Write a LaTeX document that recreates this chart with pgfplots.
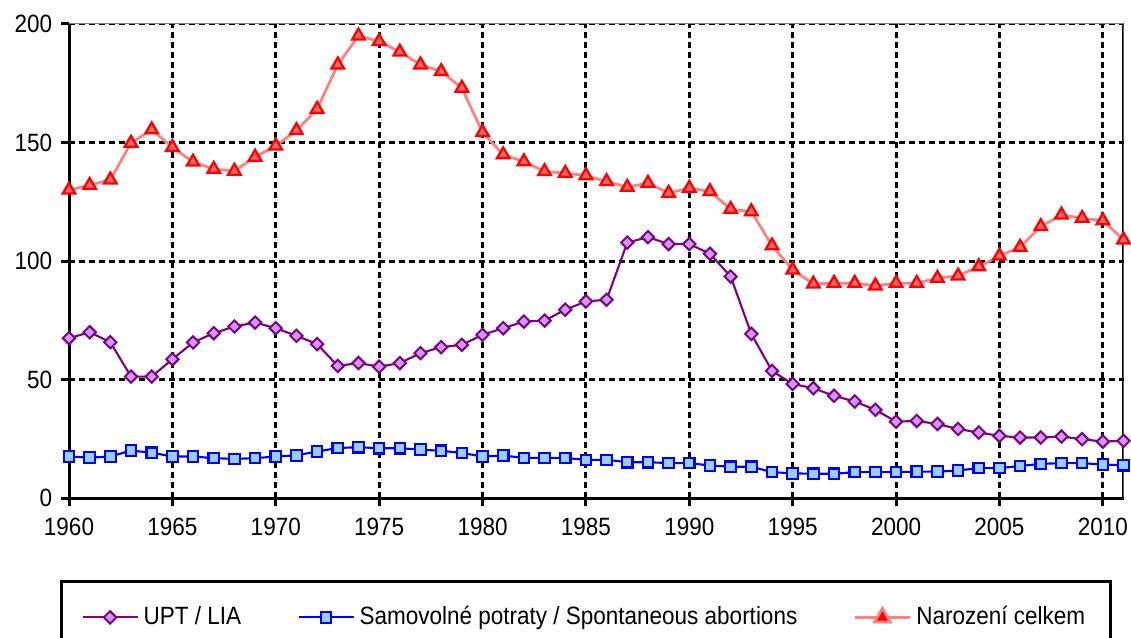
\documentclass[border=0pt]{standalone}
\usepackage{fontspec}
\setmainfont{Liberation Sans}[FakeStretch=0.9]
\usepackage{pgfplots}
\pgfplotsset{compat=1.18}
\usepackage{pgfplotstable}

\definecolor{uptline}{RGB}{128,0,128}
\definecolor{uptfill}{RGB}{204,153,255}
\definecolor{spline}{RGB}{0,0,255}
\definecolor{spfill}{RGB}{153,204,255}
\definecolor{birthline}{RGB}{255,128,128}
\definecolor{birthfill}{RGB}{245,105,105}
\definecolor{birthdraw}{RGB}{255,0,0}

\pgfplotsset{
  std legend/.style={legend image code/.code={\draw[mark repeat=2,mark phase=2,##1] plot coordinates {(0pt,0pt)(11pt,0pt)(22pt,0pt)};}},
  tri legend/.style={legend image code/.code={\draw[mark repeat=2,mark phase=2,##1,mark size=3.6pt,mark options={fill=birthdraw}] plot coordinates {(0pt,0pt)(11pt,0pt)(22pt,0pt)};}},
}

\pgfplotstableread{
year upt spont birth
1960 67.5 17.6 130.0
1961 70.0 17.1 132.0
1962 65.8 17.6 134.3
1963 51.3 20.1 149.8
1964 51.3 19.2 155.4
1965 58.6 17.6 148.0
1966 65.7 17.6 141.8
1967 69.6 16.9 138.8
1968 72.4 16.6 138.0
1969 74.1 16.9 143.9
1970 71.7 17.6 148.6
1971 68.5 18.1 155.1
1972 65.0 19.7 164.1
1973 55.8 21.2 182.8
1974 57.0 21.5 195.0
1975 55.5 21.1 192.7
1976 57.0 21.1 188.2
1977 61.2 20.5 182.8
1978 63.7 20.0 180.0
1979 64.7 19.1 173.0
1980 68.9 17.6 154.3
1981 71.7 18.0 144.9
1982 74.5 17.0 142.0
1983 74.9 17.0 137.8
1984 79.5 17.0 137.1
1985 83.0 16.2 136.1
1986 83.7 16.2 133.6
1987 107.8 15.2 131.2
1988 110.1 15.2 132.9
1989 107.2 14.8 128.7
1990 107.2 14.8 130.8
1991 103.1 13.8 129.4
1992 93.5 13.3 121.9
1993 69.3 13.3 120.9
1994 53.7 11.0 106.5
1995 48.2 10.5 96.3
1996 46.4 10.3 90.4
1997 43.2 10.3 90.7
1998 40.8 11.0 90.7
1999 37.3 11.0 89.6
2000 32.3 11.0 90.7
2001 32.6 11.2 90.7
2002 31.3 11.2 92.8
2003 29.2 11.7 93.8
2004 27.7 12.7 97.7
2005 26.3 12.7 102.2
2006 25.6 13.6 105.9
2007 25.6 14.5 114.6
2008 26.0 14.8 119.5
2009 24.9 14.8 118.1
2010 23.9 14.2 117.1
2011 24.2 13.9 109.0
}\data

\begin{document}
\fontsize{10}{12}\selectfont
\begin{tikzpicture}
\begin{axis}[name=ax,
  width=421.8pt, height=189.7pt, scale only axis,
  xmin=1960, xmax=2011, ymin=0, ymax=200,
  xtick={1960,1965,...,2010}, ytick={0,50,...,200},
  axis x line*=bottom, axis y line*=left,
  axis line style={-, line width=1.2pt, black},
  tick align=outside, major tick length=3.2pt,
  every tick/.style={line width=1.2pt, black},
  grid=major,
  major grid style={black, line width=1.15pt, dash pattern=on 2.4pt off 1.6pt},
  /pgf/number format/1000 sep={},
  /pgf/number format/assume math mode=true,
  ticklabel style={font=\fontsize{10}{12}\selectfont},
  x tick label style={yshift=-1pt},
  legend columns=3,
  legend style={at={(-0.0085,-0.172)}, anchor=north west,
    draw=black, line width=1.2pt, inner xsep=8pt, inner ysep=8pt,
    font=\fontsize{10}{12}\selectfont,
    /tikz/every even column/.append style={column sep=20.5pt}},
  std legend,
]
\addplot[color=uptline, line width=0.85pt, mark=square*, mark size=1.75pt,
  mark options={rotate=45, fill=uptfill, draw=uptline, line width=0.8pt, solid}]
  table[x=year,y=upt]{\data};
\addlegendentry{UPT / LIA}
\addplot[color=spline, line width=0.85pt, mark=square*, mark size=2.1pt,
  mark options={fill=spfill, draw=spline, line width=0.85pt, solid}]
  table[x=year,y=spont]{\data};
\addlegendentry{Samovolné potraty / Spontaneous abortions}
\addplot[color=birthline, line width=1.1pt, mark=triangle*, mark size=2.9pt,
  mark options={fill=birthfill, draw=birthdraw, line width=0.9pt, solid},
  tri legend]
  table[x=year,y=birth]{\data};
\addlegendentry{Narození celkem}
\draw[gray, line width=0.4pt] (rel axis cs:0,1) -- (rel axis cs:1,1);
\draw[black, line width=1.2pt] (rel axis cs:1,0) -- (rel axis cs:1,1);
\end{axis}
\pgfresetboundingbox
\path[use as bounding box] ([shift={(-27.6pt,-55.9pt)}]ax.south west) rectangle ([shift={(3.0pt,9.6pt)}]ax.north east);
\end{tikzpicture}
\end{document}
